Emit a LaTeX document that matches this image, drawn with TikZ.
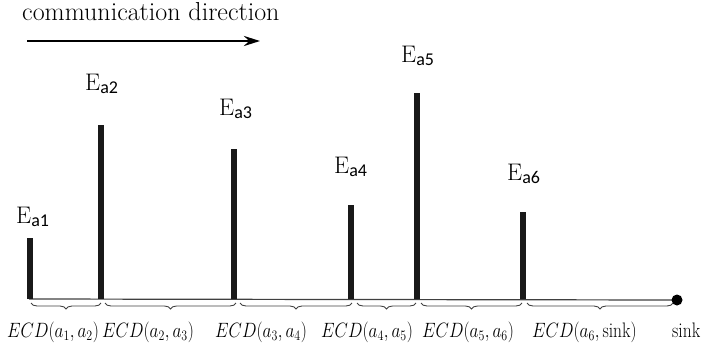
\documentclass[tikz,border=0pt]{standalone}
\usepackage{fontspec}
\newfontfamily\subfont{Carlito}
\usetikzlibrary{decorations.pathreplacing,arrows.meta}
\begin{document}
\begin{tikzpicture}[x=1pt,y=-1pt,
  bar/.style={line width=6pt,draw=black!90},
  base/.style={line width=1.2pt,draw=black!75},
  brc/.style={decorate,decoration={brace,mirror,amplitude=6pt},line width=0.9pt,draw=black!75},
  elabel/.style={font=\fontsize{24}{26}\selectfont,inner sep=0pt,anchor=base west},
  ecd/.style={font=\fontsize{17.5}{20}\selectfont,inner sep=0pt,anchor=base west},
  dirtext/.style={font=\fontsize{26}{28}\selectfont,inner sep=0pt,anchor=base west}
]
\useasboundingbox (0,0) rectangle (709,351);
% direction
\node[dirtext] (dir) at (22,20) {communication direction};
\coordinate (as) at (27,41);
\coordinate (ae) at (260,41);
\draw[line width=2.6pt,-{Stealth[length=16pt,width=10pt]}] (as) -- (ae);
% baseline
\coordinate (b0) at (29,299);
\coordinate (sink) at (677,300);
\draw[base] (b0) -- (sink);
\fill (sink) circle (5.5pt);
% bars
\foreach \n/\x/\t in {1/30/238,2/101/125,3/234/149,4/351/205,5/417/93,6/523/212}{
  \coordinate (t\n) at (\x,\t);
  \coordinate (f\n) at (\x,299);
  \draw[bar] (f\n) -- (t\n);
}
% labels
\newcommand{\Elab}[1]{E\textsubscript{\subfont\fontsize{18}{20}\selectfont a#1}}
\node[elabel] (e1) at (16,223) {\Elab{1}};
\node[elabel] (e2) at (85,90) {\Elab{2}};
\node[elabel] (e3) at (219,115) {\Elab{3}};
\node[elabel] (e4) at (334,173) {\Elab{4}};
\node[elabel] (e5) at (401,62) {\Elab{5}};
\node[elabel] (e6) at (507,180) {\Elab{6}};
% braces
\foreach \a/\b in {31/101,105/236,240/352,357/416,421/522,527/673}{
  \draw[brc] (\a,303) -- (\b,303);
}
% ECD labels
\newcommand{\ecdl}[1]{\scalebox{1}[1.2]{$#1$}}
\node[ecd] (c1) at (7,337) {\ecdl{ECD(a_1,a_2)}};
\node[ecd] (c2) at (102,337) {\ecdl{ECD(a_2,a_3)}};
\node[ecd] (c3) at (215,337) {\ecdl{ECD(a_3,a_4)}};
\node[ecd] (c4) at (321,337) {\ecdl{ECD(a_4,a_5)}};
\node[ecd] (c5) at (422,337) {\ecdl{ECD(a_5,a_6)}};
\node[ecd] (c6) at (532,337) {\ecdl{ECD(a_6,\mathrm{sink})}};
\node[ecd] (s) at (672,337) {\scalebox{1}[1.2]{sink}};
\end{tikzpicture}
\end{document}
